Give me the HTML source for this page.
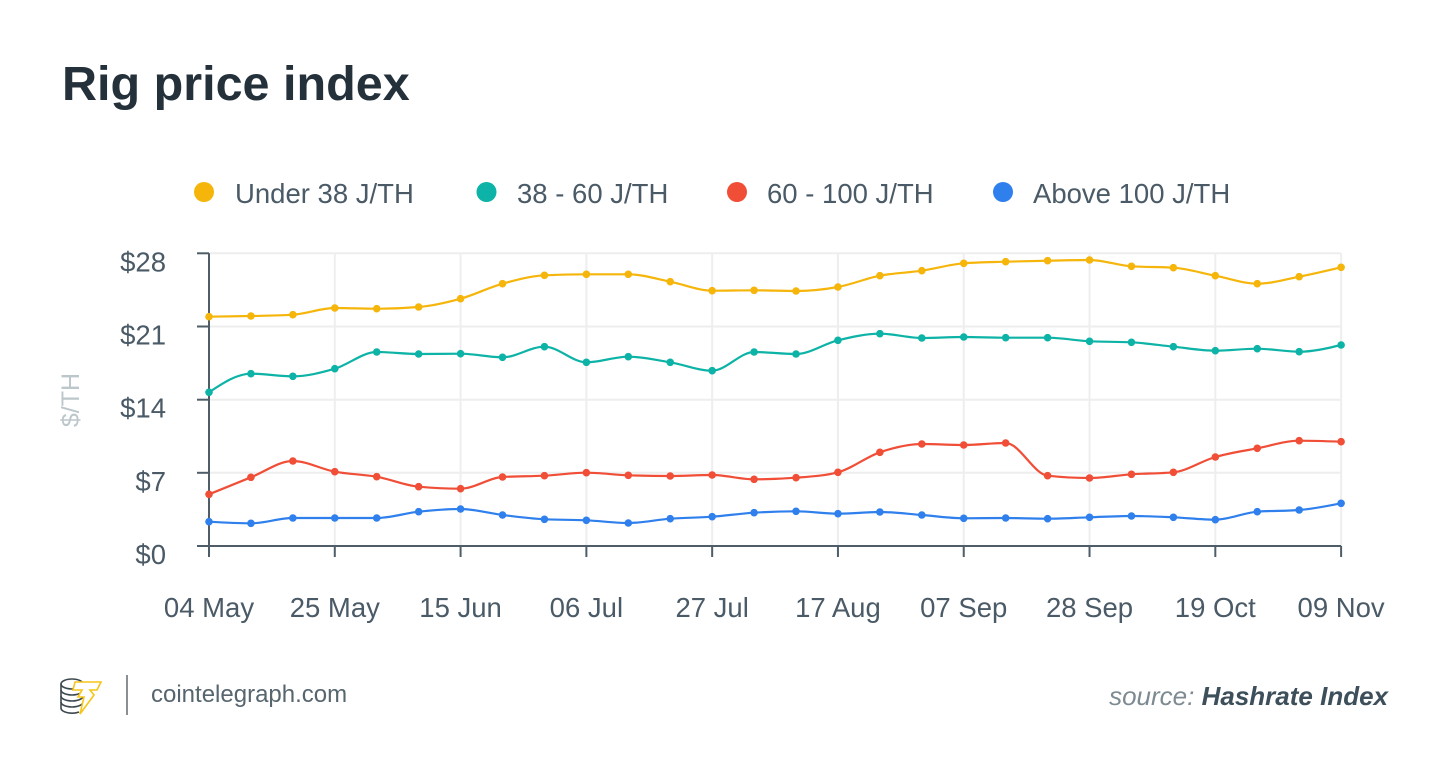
<!DOCTYPE html>
<html>
<head>
<meta charset="utf-8">
<style>
  html, body { margin:0; padding:0; background:#ffffff; }
  body { width:1450px; height:775px; overflow:hidden; }
  svg { display:block; }
  text { font-family: "Liberation Sans", "DejaVu Sans", sans-serif; }
</style>
</head>
<body>
<svg id="chart" width="1450" height="775" viewBox="0 0 1450 775" xmlns="http://www.w3.org/2000/svg">
  <!-- Title -->
  <text x="62" y="100" font-size="48.5" font-weight="bold" fill="#24303a">Rig price index</text>

  <!-- Legend -->
  <g font-size="27.5" fill="#4a5a66">
    <circle cx="204" cy="192" r="10" fill="#f5b50a"/>
    <text x="235" y="203">Under 38 J/TH</text>
    <circle cx="486.5" cy="192" r="10" fill="#0db3a6"/>
    <text x="517" y="203">38 - 60 J/TH</text>
    <circle cx="737" cy="192" r="10" fill="#f04e37"/>
    <text x="767" y="203">60 - 100 J/TH</text>
    <circle cx="1003" cy="192" r="10" fill="#2f80ed"/>
    <text x="1033" y="203">Above 100 J/TH</text>
  </g>

  <!-- grid -->
  <g id="grid" stroke="#eeeeee" stroke-width="2"></g>

  <!-- axes -->
  <g id="axes" stroke="#4e5d67" stroke-width="2"></g>

  <!-- axis labels -->
  <g id="ylabels" font-size="27.5" fill="#4a5a66" text-anchor="end"></g>
  <g id="xlabels" font-size="27.5" fill="#4a5a66" text-anchor="middle"></g>

  <text transform="translate(79,400) rotate(-90)" font-size="25" fill="#bcc7cc" text-anchor="middle">$/TH</text>

  <!-- series -->
  <g id="series"></g>

  <!-- footer logo -->
  <g fill="none" stroke-width="1.6">
    <g stroke="#3d4950">
      <path d="M61 684 a11 5 0 0 1 22 0 a11 5 0 0 1 -22 0 z"/>
      <path d="M61 684 v6 a11 5 0 0 0 22 0"/>
      <path d="M61 690 v6 a11 5 0 0 0 22 0"/>
      <path d="M61 696 v6 a11 5 0 0 0 22 0"/>
      <path d="M61 702 v6 a11 5 0 0 0 18 4"/>
    </g>
    <path d="M75 682 L101 682 L97 690 L90 690 L94 695 L80 714 L84 697 L78 697 L82 690 L73 690 Z" stroke="#f5c518" fill="#ffffff"/>
  </g>
  <rect x="126" y="675" width="2" height="40" fill="#8a8f93"/>
  <text x="151" y="702" font-size="24" fill="#56656e">cointelegraph.com</text>

  <!-- source -->
  <text x="1388" y="705" font-size="26" text-anchor="end"><tspan font-style="italic" fill="#7d8a92">source: </tspan><tspan font-style="italic" font-weight="bold" fill="#3d4f5a">Hashrate Index</tspan></text>
</svg>

<script>
(function(){
  var NS = "http://www.w3.org/2000/svg";
  function el(tag, attrs, parent, txt){
    var e = document.createElementNS(NS, tag);
    for (var k in attrs) e.setAttribute(k, attrs[k]);
    if (txt !== undefined) e.textContent = txt;
    parent.appendChild(e); return e;
  }
  var x0 = 209, step = 41.93, N = 28;
  var yTicks = [253.3, 326.5, 399.7, 472.8, 546];
  var yLab = ["$28","$21","$14","$7","$0"];
  var xLab = ["04 May","25 May","15 Jun","06 Jul","27 Jul","17 Aug","07 Sep","28 Sep","19 Oct","09 Nov"];
  var xEnd = x0 + step*(N-1);

  var grid = document.getElementById("grid");
  for (var i=0;i<4;i++) el("line",{x1:x0,y1:yTicks[i],x2:xEnd,y2:yTicks[i]},grid);
  for (var k=1;k<10;k++){ var gx = x0 + k*3*step; el("line",{x1:gx,y1:yTicks[0],x2:gx,y2:546},grid); }

  var axes = document.getElementById("axes");
  el("line",{x1:x0,y1:yTicks[0],x2:x0,y2:546},axes);
  el("line",{x1:197,y1:546,x2:xEnd,y2:546},axes);
  for (var i=0;i<5;i++) el("line",{x1:197,y1:yTicks[i],x2:x0,y2:yTicks[i]},axes);
  for (var k=0;k<10;k++){ var tx = x0 + k*3*step; el("line",{x1:tx,y1:546,x2:tx,y2:557},axes); }

  var yl = document.getElementById("ylabels");
  for (var i=0;i<5;i++) el("text",{x:166,y:yTicks[i]+18},yl,yLab[i]);
  var xl = document.getElementById("xlabels");
  for (var k=0;k<10;k++) el("text",{x:x0+k*3*step,y:617},xl,xLab[k]);

  var data = [
    {c:"#f5b50a", y:[316.7,316,314.7,308,308.7,307,298.7,283.7,275.3,274.3,274.3,281.7,290.7,290.3,291,287,275.7,270.7,263.3,261.7,260.7,260,266.3,267.7,275.7,283.7,276.7,267.3]},
    {c:"#0db3a6", y:[392.3,373.7,376.3,368.7,352,354,353.7,357.3,346.7,362.3,356.7,362.3,370.7,352,354,340.3,333.7,338,337,337.7,337.7,341.3,342.3,346.7,350.7,348.7,351.7,345]},
    {c:"#f04e37", y:[494.3,477.3,461,471.7,476.7,486.7,488.7,477,475.7,472.7,475.3,476,475,479.3,477.7,472.3,452.3,444,445,443,475.7,478,474.3,472.3,457,448.3,440.7,441.7]},
    {c:"#2f80ed", y:[521.7,523.3,518,518,518,511.7,509,515,519.3,520.3,523,518.7,516.7,512.7,511.3,513.7,512,515,518.3,518,518.7,517.3,516,517.3,519.7,511.7,510,503.3]}
  ];
  function sign(v){ return v<0?-1:1; }
  function monoPath(xs, ys){
    var n = xs.length, m = new Array(n);
    for (var i=1;i<n-1;i++){
      var h0 = xs[i]-xs[i-1], h1 = xs[i+1]-xs[i];
      var s0 = (ys[i]-ys[i-1])/h0, s1 = (ys[i+1]-ys[i])/h1;
      var p = (s0*h1 + s1*h0)/(h0+h1);
      m[i] = (sign(s0)+sign(s1)) * Math.min(Math.abs(s0), Math.abs(s1), 0.5*Math.abs(p)) || 0;
    }
    var hA = xs[1]-xs[0]; m[0] = (3*(ys[1]-ys[0])/hA - m[1])/2;
    var hB = xs[n-1]-xs[n-2]; m[n-1] = (3*(ys[n-1]-ys[n-2])/hB - m[n-2])/2;
    var d = "M"+xs[0]+","+ys[0];
    for (var i=0;i<n-1;i++){
      var dx = (xs[i+1]-xs[i])/3;
      d += " C"+(xs[i]+dx)+","+(ys[i]+dx*m[i])+" "+(xs[i+1]-dx)+","+(ys[i+1]-dx*m[i+1])+" "+xs[i+1]+","+ys[i+1];
    }
    return d;
  }
  var xs = []; for (var i=0;i<N;i++) xs.push(x0+i*step);
  var sg = document.getElementById("series");
  data.forEach(function(s){
    el("path",{d:monoPath(xs,s.y),fill:"none",stroke:s.c,"stroke-width":2.2},sg);
    for (var i=0;i<N;i++) el("circle",{cx:xs[i],cy:s.y[i],r:3.8,fill:s.c},sg);
  });
})();
</script>
</body>
</html>
